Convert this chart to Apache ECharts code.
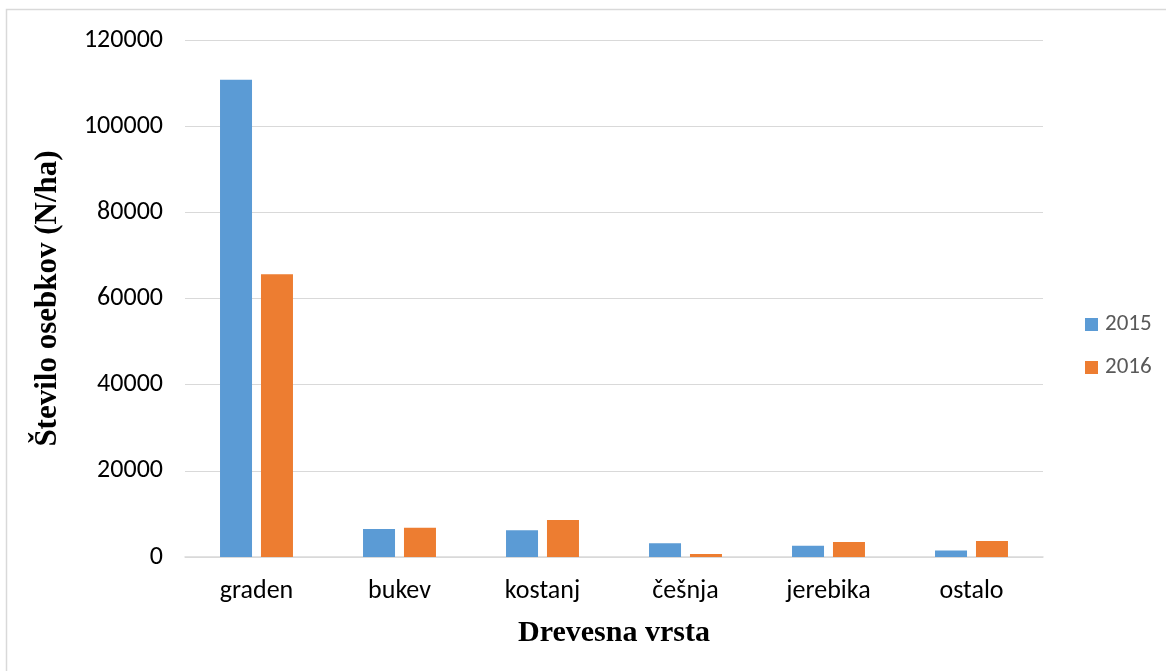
<!DOCTYPE html>
<html>
<head>
<meta charset="utf-8">
<style>
  html, body { margin: 0; padding: 0; background: #ffffff; }
  #chart { width: 1166px; height: 671px; }
</style>
<script src="https://cdn.jsdelivr.net/npm/echarts@6/dist/echarts.min.js"></script>
</head>
<body>
<div id="chart"></div>
<script>
// Tree species and seedling density per hectare
const categories = ['graden', 'bukev', 'kostanj', 'češnja', 'jerebika', 'ostalo'];
const seriesNames = ['2015', '2016'];
const values2015 = [110800, 6500, 6200, 3200, 2600, 1500];
const values2016 = [65600, 6800, 8600, 700, 3500, 3700];
const yTicks = [0, 20000, 40000, 60000, 80000, 100000, 120000];

const chart = echarts.init(document.getElementById('chart'), null, { renderer: 'canvas' });

const labelFont = 'Carlito, "Open Sans", "Liberation Sans", sans-serif';
const titleFont = '"Liberation Serif", "DejaVu Serif", serif';

chart.setOption({
  animation: false,
  backgroundColor: '#ffffff',
  color: ['#5b9bd5', '#ed7d31'],
  grid: { left: 185, right: 123, top: 40, bottom: 114 },
  legend: {
    orient: 'vertical',
    left: 1080,
    top: 308,
    itemWidth: 13,
    itemHeight: 13,
    itemGap: 20,
    icon: 'rect',
    textStyle: { color: '#595959', fontSize: 23, fontFamily: labelFont, padding: [0, 0, 0, 2] },
    data: seriesNames
  },
  xAxis: {
    type: 'category',
    data: categories,
    axisTick: { show: false },
    axisLine: { lineStyle: { color: '#d9d9d9', width: 1.5 } },
    axisLabel: { color: '#000000', fontSize: 26, fontFamily: labelFont, margin: 21 },
    name: 'Drevesna vrsta',
    nameLocation: 'middle',
    nameGap: 61,
    nameTextStyle: { color: '#000000', fontSize: 30, fontWeight: 'bold', fontFamily: titleFont }
  },
  yAxis: {
    type: 'value',
    min: yTicks[0],
    max: yTicks[yTicks.length - 1],
    interval: yTicks[1] - yTicks[0],
    axisLine: { show: false },
    axisTick: { show: false },
    splitLine: { lineStyle: { color: '#d9d9d9', width: 1 } },
    axisLabel: {
      color: '#000000',
      fontSize: 26,
      fontFamily: labelFont,
      margin: 22,
      formatter: (v) => String(v)
    },
    name: 'Število osebkov (N/ha)',
    nameLocation: 'middle',
    nameGap: 122,
    nameRotate: 90,
    nameTextStyle: { color: '#000000', fontSize: 31, fontWeight: 'bold', fontFamily: titleFont }
  },
  series: [
    { name: seriesNames[0], type: 'bar', data: values2015, barWidth: 32, barGap: '28%' },
    { name: seriesNames[1], type: 'bar', data: values2016, barWidth: 32, barGap: '28%' }
  ],
  graphic: [
    {
      type: 'rect',
      shape: { x: 6.5, y: 9.5, width: 1180, height: 700 },
      style: { fill: 'none', stroke: '#d9d9d9', lineWidth: 1.5 },
      silent: true
    }
  ]
});
</script>
</body>
</html>
